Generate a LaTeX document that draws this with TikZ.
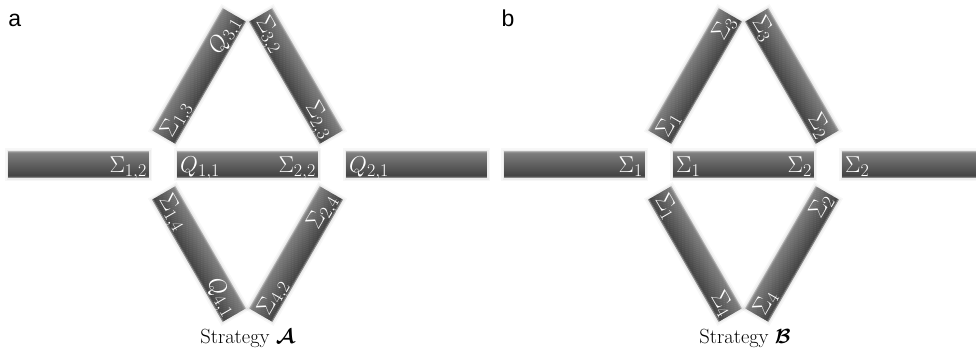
\RequirePackage{fix-cm}
\documentclass[tikz,border=0pt]{standalone}
\usepackage{amsmath}
\usepackage{fontspec}
\newfontfamily\panelfont{Liberation Sans}
\DeclareMathSizes{23}{23}{18}{14}
\DeclareMathSizes{20.5}{20.5}{15}{12}
\tikzset{
  x=1pt, y=1pt,
  lbl/.style={text=white, inner sep=0pt, transform shape,
    font=\fontsize{23}{27}\selectfont},
  panel/.style={inner sep=0pt, anchor=base west,
    font=\panelfont\fontsize{23}{27}\selectfont},
  caption/.style={inner sep=0pt, anchor=base,
    font=\fontsize{20.5}{24}\selectfont},
  % a shaded bar 141 x 27 centred on the pic origin, with optional end labels
  pics/bar/.style 2 args={code={
    \fill[black, opacity=0.03] (-73.5,-16.5) rectangle (73.5,16.5);
    \fill[black, opacity=0.04] (-72,-15) rectangle (72,15);
    \foreach \c [count=\i from 0] in
      {30,44,50,52,53,54,55,56,57,58,59,60,61,62,63,64,65,66,67,68,69,70,71,72,73,68,48}{
      \fill[black!\c] (-70.5,13.5-\i) rectangle (70.5,{max(-13.5,12.2-\i)});
    }
    \if\relax\detokenize{#1}\relax\else
      \node[lbl, anchor=base west] (-l) at (-67.5,-7.5) {\(#1\)};
    \fi
    \if\relax\detokenize{#2}\relax\else
      \node[lbl, anchor=base east] (-r) at (68.5,-7.5) {\(#2\)};
    \fi
  }},
}
\begin{document}
\begin{tikzpicture}
\clip (0,0) rectangle (976,356);
\fill[white] (0,0) rectangle (976,356);

% ---- panel a ----
\node[panel] (la) at (8.2,329) {a};
\pic (a1) at (78.5,191) {bar={}{\Sigma_{1,2}}};
\pic (a2) at (247.5,191) {bar={Q_{1,1}}{\Sigma_{2,2}}};
\pic (a3) at (416.5,191) {bar={Q_{2,1}}{}};
\pic[rotate=60] (a4) at (199,280) {bar={\Sigma_{1,3}}{Q_{3,1}}};
\pic[rotate=-60] (a5) at (296,280) {bar={\Sigma_{3,2}}{\Sigma_{2,3}}};
\pic[rotate=-60] (a6) at (199,102) {bar={\Sigma_{1,4}}{Q_{4,1}}};
\pic[rotate=60] (a7) at (296,102) {bar={\Sigma_{4,2}}{\Sigma_{2,4}}};
\node[caption] (ca) at (247.5,13) {Strategy $\boldsymbol{\mathcal{A}}$};

% ---- panel b ----
\node[panel] (lb) at (501.5,329) {b};
\pic (b1) at (574.5,191) {bar={}{\Sigma_{1}}};
\pic (b2) at (743.5,191) {bar={\Sigma_{1}}{\Sigma_{2}}};
\pic (b3) at (912.5,191) {bar={\Sigma_{2}}{}};
\pic[rotate=60] (b4) at (695,280) {bar={\Sigma_{1}}{\Sigma_{3}}};
\pic[rotate=-60] (b5) at (792,280) {bar={\Sigma_{3}}{\Sigma_{2}}};
\pic[rotate=-60] (b6) at (695,102) {bar={\Sigma_{1}}{\Sigma_{4}}};
\pic[rotate=60] (b7) at (792,102) {bar={\Sigma_{4}}{\Sigma_{2}}};
\node[caption] (cb) at (745,13) {Strategy $\boldsymbol{\mathcal{B}}$};
\end{tikzpicture}
\end{document}
